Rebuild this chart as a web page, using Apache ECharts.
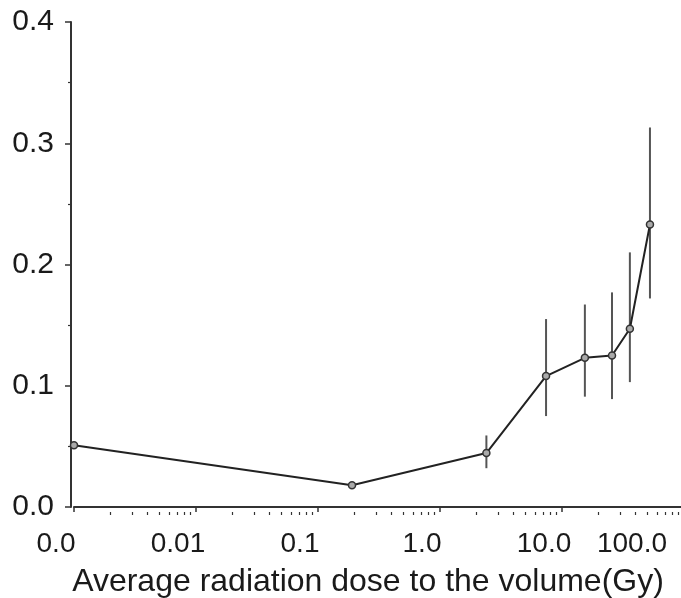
<!DOCTYPE html>
<html>
<head>
<meta charset="utf-8">
<script src="https://cdn.jsdelivr.net/npm/echarts@6/dist/echarts.min.js"></script>
<style>html,body{margin:0;padding:0;background:#fff}#c{width:681px;height:598px}</style>
</head>
<body>
<div id="c"></div>
<script>
const doses = [0.001, 0.19, 2.4, 7.4, 15.4, 25.7, 36, 52.6];
const rates = [0.051, 0.018, 0.0445, 0.108, 0.123, 0.125, 0.147, 0.233];
const lowerCI = [null, null, 0.032, 0.075, 0.091, 0.089, 0.103, 0.172];
const upperCI = [null, null, 0.059, 0.155, 0.167, 0.177, 0.210, 0.313];
const xTickLabels = ['0.0', '0.01', '0.1', '1.0', '10.0', '100.0'];
const yTickLabels = ['0.0', '0.1', '0.2', '0.3', '0.4'];
const xMinorTicks = [];
[0.001, 0.01, 0.1, 1, 10].forEach(d => { for (let k = 2; k <= 9; k++) xMinorTicks.push(d * k); });

const FONT = '"Liberation Sans", Arial, sans-serif';
const chart = echarts.init(document.getElementById('c'), null, {renderer: 'canvas'});

const lineData = doses.map((d, i) => [d, rates[i]]);
const errData = [];
doses.forEach((d, i) => { if (lowerCI[i] != null) errData.push([d, lowerCI[i], upperCI[i]]); });

chart.setOption({
  animation: false,
  backgroundColor: '#fff',
  grid: {left: 74, width: 610, top: 22, bottom: 91, containLabel: false, outerBoundsMode: 'none'},
  xAxis: [{
    type: 'log', logBase: 10, min: 0.001, max: 100, interval: 1,
    offset: 5,
    name: 'Average radiation dose to the volume(Gy)',
    nameLocation: 'middle', nameGap: 54,
    nameTextStyle: {fontFamily: FONT, fontSize: 32, color: '#1a1a1a', padding: [0, 22, 0, 0]},
    axisLine: {show: true, lineStyle: {color: '#333', width: 2}},
    axisTick: {show: true, inside: false, length: 5, lineStyle: {color: '#333', width: 1.5}},
    minorTick: {show: false},
    splitLine: {show: false},
    axisLabel: {
      show: true, margin: 18, showMinLabel: true, showMaxLabel: true,
      fontFamily: FONT, fontSize: 28, color: '#1a1a1a',
      formatter: function (v) {
        const idx = Math.round(Math.log10(v)) + 3;
        const t = xTickLabels[idx];
        if (t == null) return '';
        return idx === 5 ? '{last|' + t + '}' : '{n|' + t + '}';
      },
      rich: {
        n: {fontFamily: FONT, fontSize: 28, color: '#1a1a1a', padding: [0, 36, 0, 0]},
        last: {fontFamily: FONT, fontSize: 28, color: '#1a1a1a', padding: [0, 104, 0, 0]}
      }
    }
  }, {
    type: 'log', logBase: 10, min: 0.001, max: 100, gridIndex: 0,
    position: 'bottom', offset: 5,
    axisLine: {show: false},
    axisTick: {show: true, customValues: xMinorTicks, length: 3, lineStyle: {color: '#333', width: 1.2}},
    axisLabel: {show: false},
    splitLine: {show: false}
  }],
  yAxis: {
    type: 'value', min: 0, max: 0.4, interval: 0.1,
    offset: 3,
    axisLine: {show: true, lineStyle: {color: '#333', width: 2}},
    axisTick: {show: true, length: 6, lineStyle: {color: '#333', width: 1.5}},
    minorTick: {show: true, splitNumber: 2, length: 3, lineStyle: {color: '#333', width: 1.2}},
    splitLine: {show: false},
    axisLabel: {
      margin: 17, fontFamily: FONT, fontSize: 30, color: '#1a1a1a', padding: [7, 0, 0, 0],
      formatter: function (v) { return yTickLabels[Math.round(v * 10)]; }
    }
  },
  series: [{
    type: 'custom',
    xAxisIndex: 0,
    data: errData,
    z: 1,
    renderItem: function (params, api) {
      const x = api.value(0);
      const p1 = api.coord([x, api.value(1)]);
      const p2 = api.coord([x, api.value(2)]);
      return {
        type: 'line',
        shape: {x1: p1[0], y1: p1[1], x2: p2[0], y2: p2[1]},
        style: {stroke: '#555', lineWidth: 2}
      };
    }
  }, {
    type: 'line',
    xAxisIndex: 0,
    data: lineData,
    z: 2,
    symbol: 'circle',
    symbolSize: 7,
    showAllSymbol: true,
    lineStyle: {color: '#222', width: 2},
    itemStyle: {color: '#aaa', borderColor: '#333', borderWidth: 1.5}
  }]
});
</script>
</body>
</html>
